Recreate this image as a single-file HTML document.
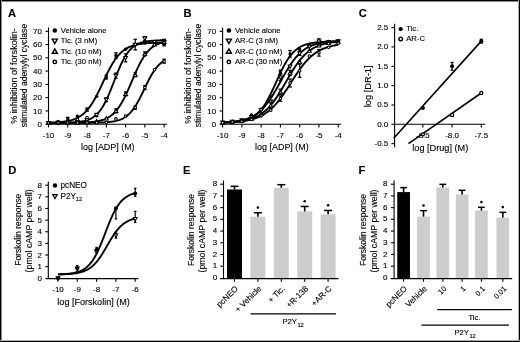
<!DOCTYPE html>
<html><head><meta charset="utf-8"><title>Figure</title>
<style>
html,body{margin:0;padding:0;background:#fff;}
body{width:520px;height:342px;overflow:hidden;font-family:"Liberation Sans",sans-serif;}
svg{display:block;will-change:transform;}
svg text{stroke:#000;stroke-width:0.12px;}
</style></head><body>
<svg width="520" height="342" viewBox="0 0 520 342" font-family="'Liberation Sans', sans-serif" fill="#000"><rect width="520" height="342" fill="#fff"/><text x="8.00" y="16.80" font-size="11.2" text-anchor="start" font-weight="bold">A</text>
<line x1="48.50" y1="27.50" x2="48.50" y2="124.70" stroke="#000" stroke-width="1.1"/>
<line x1="45.50" y1="124.20" x2="48.50" y2="124.20" stroke="#000" stroke-width="1.1"/>
<text x="42.00" y="126.80" font-size="8" text-anchor="end">0</text>
<line x1="45.50" y1="110.93" x2="48.50" y2="110.93" stroke="#000" stroke-width="1.1"/>
<text x="42.00" y="113.53" font-size="8" text-anchor="end">10</text>
<line x1="45.50" y1="97.66" x2="48.50" y2="97.66" stroke="#000" stroke-width="1.1"/>
<text x="42.00" y="100.26" font-size="8" text-anchor="end">20</text>
<line x1="45.50" y1="84.39" x2="48.50" y2="84.39" stroke="#000" stroke-width="1.1"/>
<text x="42.00" y="86.99" font-size="8" text-anchor="end">30</text>
<line x1="45.50" y1="71.12" x2="48.50" y2="71.12" stroke="#000" stroke-width="1.1"/>
<text x="42.00" y="73.72" font-size="8" text-anchor="end">40</text>
<line x1="45.50" y1="57.85" x2="48.50" y2="57.85" stroke="#000" stroke-width="1.1"/>
<text x="42.00" y="60.45" font-size="8" text-anchor="end">50</text>
<line x1="45.50" y1="44.58" x2="48.50" y2="44.58" stroke="#000" stroke-width="1.1"/>
<text x="42.00" y="47.18" font-size="8" text-anchor="end">60</text>
<line x1="45.50" y1="31.31" x2="48.50" y2="31.31" stroke="#000" stroke-width="1.1"/>
<text x="42.00" y="33.91" font-size="8" text-anchor="end">70</text>
<line x1="48.50" y1="124.20" x2="167.00" y2="124.20" stroke="#000" stroke-width="1.1"/>
<line x1="48.50" y1="124.20" x2="48.50" y2="127.40" stroke="#000" stroke-width="1.1"/>
<text x="48.50" y="137.60" font-size="8" text-anchor="middle">-10</text>
<line x1="67.77" y1="124.20" x2="67.77" y2="127.40" stroke="#000" stroke-width="1.1"/>
<text x="67.77" y="137.60" font-size="8" text-anchor="middle">-9</text>
<line x1="87.04" y1="124.20" x2="87.04" y2="127.40" stroke="#000" stroke-width="1.1"/>
<text x="87.04" y="137.60" font-size="8" text-anchor="middle">-8</text>
<line x1="106.31" y1="124.20" x2="106.31" y2="127.40" stroke="#000" stroke-width="1.1"/>
<text x="106.31" y="137.60" font-size="8" text-anchor="middle">-7</text>
<line x1="125.58" y1="124.20" x2="125.58" y2="127.40" stroke="#000" stroke-width="1.1"/>
<text x="125.58" y="137.60" font-size="8" text-anchor="middle">-6</text>
<line x1="144.85" y1="124.20" x2="144.85" y2="127.40" stroke="#000" stroke-width="1.1"/>
<text x="144.85" y="137.60" font-size="8" text-anchor="middle">-5</text>
<line x1="164.12" y1="124.20" x2="164.12" y2="127.40" stroke="#000" stroke-width="1.1"/>
<text x="164.12" y="137.60" font-size="8" text-anchor="middle">-4</text>
<text x="107.80" y="150.40" font-size="9" text-anchor="middle" textLength="53.6" lengthAdjust="spacingAndGlyphs">log [ADP] (M)</text>
<text x="0" y="0" transform="translate(16.90,76.00) rotate(-90)" font-size="9" text-anchor="middle" textLength="95.5" lengthAdjust="spacingAndGlyphs">% inhibition of forskolin-</text>
<text x="0" y="0" transform="translate(26.90,75.60) rotate(-90)" font-size="9" text-anchor="middle" textLength="103.5" lengthAdjust="spacingAndGlyphs">stimulated adenylyl cyclase</text>
<circle cx="54.80" cy="30.50" r="2.25" fill="#000"/>
<text x="60.80" y="32.60" font-size="7.7" text-anchor="start">Vehicle alone</text>
<path d="M52.27,39.10 L57.33,39.10 L54.80,43.53 Z" fill="#fff" stroke="#000" stroke-width="1.43" stroke-linejoin="miter"/>
<text x="60.80" y="43.10" font-size="7.7" text-anchor="start">Tic. (3 nM)</text>
<path d="M52.27,53.30 L57.33,53.30 L54.80,48.87 Z" fill="#fff" stroke="#000" stroke-width="1.43" stroke-linejoin="miter"/>
<text x="60.80" y="53.50" font-size="7.7" text-anchor="start">Tic. (10 nM)</text>
<circle cx="54.80" cy="61.90" r="1.71" fill="#fff" stroke="#000" stroke-width="1.43"/>
<text x="60.80" y="64.00" font-size="7.7" text-anchor="start">Tic. (30 nM)</text>
<polyline points="48.50,122.63 49.46,122.60 50.43,122.57 51.39,122.54 52.35,122.50 53.32,122.46 54.28,122.42 55.24,122.37 56.21,122.31 57.17,122.25 58.13,122.19 59.10,122.11 60.06,122.03 61.03,121.94 61.99,121.84 62.95,121.73 63.92,121.61 64.88,121.48 65.84,121.33 66.81,121.17 67.77,120.99 68.73,120.79 69.70,120.57 70.66,120.33 71.62,120.07 72.59,119.78 73.55,119.46 74.51,119.10 75.48,118.72 76.44,118.30 77.41,117.83 78.37,117.33 79.33,116.77 80.30,116.17 81.26,115.51 82.22,114.80 83.19,114.02 84.15,113.18 85.11,112.28 86.08,111.30 87.04,110.24 88.00,109.12 88.97,107.91 89.93,106.62 90.89,105.25 91.86,103.80 92.82,102.27 93.78,100.66 94.75,98.97 95.71,97.22 96.67,95.40 97.64,93.51 98.60,91.58 99.57,89.60 100.53,87.58 101.49,85.54 102.46,83.49 103.42,81.43 104.38,79.38 105.35,77.34 106.31,75.33 107.27,73.36 108.24,71.44 109.20,69.56 110.16,67.76 111.13,66.01 112.09,64.34 113.05,62.75 114.02,61.23 114.98,59.80 115.94,58.45 116.91,57.17 117.87,55.98 118.84,54.87 119.80,53.83 120.76,52.87 121.73,51.97 122.69,51.15 123.65,50.38 124.62,49.68 125.58,49.03 126.54,48.44 127.51,47.90 128.47,47.40 129.43,46.95 130.40,46.53 131.36,46.15 132.32,45.81 133.29,45.49 134.25,45.21 135.22,44.95 136.18,44.71 137.14,44.50 138.11,44.30 139.07,44.13 140.03,43.97 141.00,43.82 141.96,43.69 142.92,43.57 143.89,43.47 144.85,43.37 145.81,43.28 146.78,43.20 147.74,43.13 148.70,43.06 149.67,43.01 150.63,42.95 151.59,42.90 152.56,42.86 153.52,42.82 154.49,42.79 155.45,42.75 156.41,42.73 157.38,42.70 158.34,42.68 159.30,42.65 160.27,42.64 161.23,42.62 162.19,42.60 163.16,42.59 164.12,42.58" fill="none" stroke="#000" stroke-width="1.9" stroke-linejoin="round"/>
<polyline points="48.50,122.85 49.46,122.85 50.43,122.84 51.39,122.84 52.35,122.84 53.32,122.83 54.28,122.83 55.24,122.82 56.21,122.81 57.17,122.81 58.13,122.80 59.10,122.79 60.06,122.78 61.03,122.77 61.99,122.75 62.95,122.74 63.92,122.72 64.88,122.70 65.84,122.68 66.81,122.65 67.77,122.62 68.73,122.59 69.70,122.56 70.66,122.52 71.62,122.47 72.59,122.42 73.55,122.36 74.51,122.29 75.48,122.22 76.44,122.14 77.41,122.04 78.37,121.94 79.33,121.82 80.30,121.69 81.26,121.54 82.22,121.37 83.19,121.18 84.15,120.97 85.11,120.73 86.08,120.46 87.04,120.16 88.00,119.82 88.97,119.45 89.93,119.03 90.89,118.56 91.86,118.04 92.82,117.46 93.78,116.81 94.75,116.10 95.71,115.31 96.67,114.43 97.64,113.47 98.60,112.42 99.57,111.26 100.53,110.00 101.49,108.63 102.46,107.15 103.42,105.55 104.38,103.84 105.35,102.01 106.31,100.06 107.27,98.01 108.24,95.86 109.20,93.62 110.16,91.29 111.13,88.90 112.09,86.45 113.05,83.97 114.02,81.47 114.98,78.97 115.94,76.49 116.91,74.04 117.87,71.65 118.84,69.33 119.80,67.08 120.76,64.93 121.73,62.88 122.69,60.94 123.65,59.11 124.62,57.39 125.58,55.79 126.54,54.31 127.51,52.94 128.47,51.68 129.43,50.53 130.40,49.47 131.36,48.51 132.32,47.64 133.29,46.84 134.25,46.13 135.22,45.48 136.18,44.90 137.14,44.38 138.11,43.91 139.07,43.49 140.03,43.12 141.00,42.78 141.96,42.48 142.92,42.21 143.89,41.98 144.85,41.76 145.81,41.57 146.78,41.40 147.74,41.25 148.70,41.12 149.67,41.00 150.63,40.90 151.59,40.80 152.56,40.72 153.52,40.65 154.49,40.58 155.45,40.52 156.41,40.47 157.38,40.43 158.34,40.39 159.30,40.35 160.27,40.32 161.23,40.29 162.19,40.26 163.16,40.24 164.12,40.22" fill="none" stroke="#000" stroke-width="1.9" stroke-linejoin="round"/>
<polyline points="48.50,122.87 49.46,122.87 50.43,122.86 51.39,122.86 52.35,122.86 53.32,122.86 54.28,122.86 55.24,122.86 56.21,122.86 57.17,122.86 58.13,122.85 59.10,122.85 60.06,122.85 61.03,122.85 61.99,122.84 62.95,122.84 63.92,122.84 64.88,122.83 65.84,122.83 66.81,122.82 67.77,122.81 68.73,122.81 69.70,122.80 70.66,122.79 71.62,122.78 72.59,122.77 73.55,122.76 74.51,122.75 75.48,122.73 76.44,122.72 77.41,122.70 78.37,122.68 79.33,122.66 80.30,122.63 81.26,122.60 82.22,122.57 83.19,122.54 84.15,122.50 85.11,122.46 86.08,122.41 87.04,122.36 88.00,122.30 88.97,122.23 89.93,122.16 90.89,122.08 91.86,121.99 92.82,121.89 93.78,121.77 94.75,121.65 95.71,121.51 96.67,121.35 97.64,121.18 98.60,120.99 99.57,120.78 100.53,120.54 101.49,120.28 102.46,119.99 103.42,119.67 104.38,119.32 105.35,118.93 106.31,118.50 107.27,118.02 108.24,117.49 109.20,116.92 110.16,116.28 111.13,115.59 112.09,114.83 113.05,114.00 114.02,113.09 114.98,112.11 115.94,111.04 116.91,109.89 117.87,108.65 118.84,107.31 119.80,105.88 120.76,104.36 121.73,102.74 122.69,101.02 123.65,99.22 124.62,97.33 125.58,95.35 126.54,93.31 127.51,91.19 128.47,89.03 129.43,86.82 130.40,84.57 131.36,82.31 132.32,80.04 133.29,77.79 134.25,75.55 135.22,73.34 136.18,71.19 137.14,69.09 138.11,67.05 139.07,65.10 140.03,63.22 141.00,61.44 141.96,59.74 142.92,58.14 143.89,56.63 144.85,55.22 145.81,53.90 146.78,52.68 147.74,51.54 148.70,50.49 149.67,49.53 150.63,48.64 151.59,47.82 152.56,47.07 153.52,46.39 154.49,45.77 155.45,45.20 156.41,44.69 157.38,44.22 158.34,43.80 159.30,43.42 160.27,43.07 161.23,42.76 162.19,42.47 163.16,42.22 164.12,41.99" fill="none" stroke="#000" stroke-width="1.9" stroke-linejoin="round"/>
<polyline points="48.50,122.87 49.46,122.87 50.43,122.87 51.39,122.87 52.35,122.87 53.32,122.87 54.28,122.87 55.24,122.87 56.21,122.87 57.17,122.87 58.13,122.87 59.10,122.87 60.06,122.87 61.03,122.87 61.99,122.87 62.95,122.87 63.92,122.87 64.88,122.87 65.84,122.87 66.81,122.87 67.77,122.87 68.73,122.87 69.70,122.87 70.66,122.87 71.62,122.86 72.59,122.86 73.55,122.86 74.51,122.86 75.48,122.86 76.44,122.86 77.41,122.86 78.37,122.85 79.33,122.85 80.30,122.85 81.26,122.85 82.22,122.84 83.19,122.84 84.15,122.83 85.11,122.83 86.08,122.82 87.04,122.82 88.00,122.81 88.97,122.80 89.93,122.79 90.89,122.78 91.86,122.77 92.82,122.76 93.78,122.75 94.75,122.73 95.71,122.71 96.67,122.69 97.64,122.67 98.60,122.64 99.57,122.61 100.53,122.58 101.49,122.54 102.46,122.50 103.42,122.45 104.38,122.40 105.35,122.34 106.31,122.28 107.27,122.20 108.24,122.12 109.20,122.02 110.16,121.91 111.13,121.79 112.09,121.66 113.05,121.51 114.02,121.34 114.98,121.15 115.94,120.94 116.91,120.70 117.87,120.43 118.84,120.13 119.80,119.80 120.76,119.43 121.73,119.02 122.69,118.56 123.65,118.05 124.62,117.48 125.58,116.86 126.54,116.17 127.51,115.41 128.47,114.58 129.43,113.67 130.40,112.67 131.36,111.59 132.32,110.42 133.29,109.16 134.25,107.80 135.22,106.36 136.18,104.82 137.14,103.19 138.11,101.48 139.07,99.70 140.03,97.85 141.00,95.93 141.96,93.98 142.92,91.99 143.89,89.97 144.85,87.96 145.81,85.95 146.78,83.96 147.74,82.01 148.70,80.11 149.67,78.27 150.63,76.50 151.59,74.81 152.56,73.20 153.52,71.68 154.49,70.25 155.45,68.92 156.41,67.67 157.38,66.52 158.34,65.46 159.30,64.48 160.27,63.59 161.23,62.77 162.19,62.02 163.16,61.35 164.12,60.74" fill="none" stroke="#000" stroke-width="1.9" stroke-linejoin="round"/>
<circle cx="48.50" cy="122.63" r="1.68" fill="#000"/>
<circle cx="58.13" cy="121.55" r="1.68" fill="#000"/>
<line x1="67.77" y1="117.30" x2="67.77" y2="120.48" stroke="#000" stroke-width="1.2"/>
<line x1="65.97" y1="117.30" x2="69.57" y2="117.30" stroke="#000" stroke-width="1.2"/>
<line x1="65.97" y1="120.48" x2="69.57" y2="120.48" stroke="#000" stroke-width="1.2"/>
<circle cx="67.77" cy="118.89" r="1.68" fill="#000"/>
<circle cx="77.41" cy="116.24" r="1.68" fill="#000"/>
<line x1="87.04" y1="108.01" x2="87.04" y2="111.20" stroke="#000" stroke-width="1.2"/>
<line x1="85.24" y1="108.01" x2="88.84" y2="108.01" stroke="#000" stroke-width="1.2"/>
<line x1="85.24" y1="111.20" x2="88.84" y2="111.20" stroke="#000" stroke-width="1.2"/>
<circle cx="87.04" cy="109.60" r="1.68" fill="#000"/>
<circle cx="96.67" cy="96.33" r="1.68" fill="#000"/>
<line x1="106.31" y1="75.10" x2="106.31" y2="79.08" stroke="#000" stroke-width="1.2"/>
<line x1="104.51" y1="75.10" x2="108.11" y2="75.10" stroke="#000" stroke-width="1.2"/>
<line x1="104.51" y1="79.08" x2="108.11" y2="79.08" stroke="#000" stroke-width="1.2"/>
<circle cx="106.31" cy="77.09" r="1.68" fill="#000"/>
<line x1="115.94" y1="52.81" x2="115.94" y2="58.12" stroke="#000" stroke-width="1.2"/>
<line x1="114.14" y1="52.81" x2="117.74" y2="52.81" stroke="#000" stroke-width="1.2"/>
<line x1="114.14" y1="58.12" x2="117.74" y2="58.12" stroke="#000" stroke-width="1.2"/>
<circle cx="115.94" cy="55.46" r="1.68" fill="#000"/>
<circle cx="125.58" cy="49.22" r="1.68" fill="#000"/>
<circle cx="135.22" cy="44.85" r="1.68" fill="#000"/>
<circle cx="144.85" cy="42.99" r="1.68" fill="#000"/>
<circle cx="154.49" cy="43.25" r="1.68" fill="#000"/>
<line x1="164.12" y1="40.60" x2="164.12" y2="45.91" stroke="#000" stroke-width="1.2"/>
<line x1="162.32" y1="40.60" x2="165.92" y2="40.60" stroke="#000" stroke-width="1.2"/>
<line x1="162.32" y1="45.91" x2="165.92" y2="45.91" stroke="#000" stroke-width="1.2"/>
<circle cx="164.12" cy="43.25" r="1.68" fill="#000"/>
<path d="M46.61,121.44 L50.39,121.44 L48.50,124.74 Z" fill="#fff" stroke="#000" stroke-width="1.07" stroke-linejoin="miter"/>
<path d="M56.25,121.38 L60.02,121.38 L58.13,124.68 Z" fill="#fff" stroke="#000" stroke-width="1.07" stroke-linejoin="miter"/>
<path d="M65.88,121.21 L69.66,121.21 L67.77,124.51 Z" fill="#fff" stroke="#000" stroke-width="1.07" stroke-linejoin="miter"/>
<path d="M75.52,120.63 L79.29,120.63 L77.41,123.93 Z" fill="#fff" stroke="#000" stroke-width="1.07" stroke-linejoin="miter"/>
<path d="M85.15,118.74 L88.93,118.74 L87.04,122.05 Z" fill="#fff" stroke="#000" stroke-width="1.07" stroke-linejoin="miter"/>
<line x1="96.67" y1="113.32" x2="96.67" y2="116.50" stroke="#000" stroke-width="1.2"/>
<line x1="94.88" y1="113.32" x2="98.47" y2="113.32" stroke="#000" stroke-width="1.2"/>
<line x1="94.88" y1="116.50" x2="98.47" y2="116.50" stroke="#000" stroke-width="1.2"/>
<path d="M94.79,113.50 L98.56,113.50 L96.67,116.80 Z" fill="#fff" stroke="#000" stroke-width="1.07" stroke-linejoin="miter"/>
<line x1="106.31" y1="97.66" x2="106.31" y2="101.64" stroke="#000" stroke-width="1.2"/>
<line x1="104.51" y1="97.66" x2="108.11" y2="97.66" stroke="#000" stroke-width="1.2"/>
<line x1="104.51" y1="101.64" x2="108.11" y2="101.64" stroke="#000" stroke-width="1.2"/>
<path d="M104.42,98.24 L108.20,98.24 L106.31,101.54 Z" fill="#fff" stroke="#000" stroke-width="1.07" stroke-linejoin="miter"/>
<line x1="115.94" y1="72.98" x2="115.94" y2="78.29" stroke="#000" stroke-width="1.2"/>
<line x1="114.14" y1="72.98" x2="117.74" y2="72.98" stroke="#000" stroke-width="1.2"/>
<line x1="114.14" y1="78.29" x2="117.74" y2="78.29" stroke="#000" stroke-width="1.2"/>
<path d="M114.06,74.22 L117.83,74.22 L115.94,77.52 Z" fill="#fff" stroke="#000" stroke-width="1.07" stroke-linejoin="miter"/>
<line x1="125.58" y1="53.87" x2="125.58" y2="61.83" stroke="#000" stroke-width="1.2"/>
<line x1="123.78" y1="53.87" x2="127.38" y2="53.87" stroke="#000" stroke-width="1.2"/>
<line x1="123.78" y1="61.83" x2="127.38" y2="61.83" stroke="#000" stroke-width="1.2"/>
<path d="M123.69,56.44 L127.47,56.44 L125.58,59.74 Z" fill="#fff" stroke="#000" stroke-width="1.07" stroke-linejoin="miter"/>
<line x1="135.22" y1="39.27" x2="135.22" y2="49.89" stroke="#000" stroke-width="1.2"/>
<line x1="133.41" y1="39.27" x2="137.02" y2="39.27" stroke="#000" stroke-width="1.2"/>
<line x1="133.41" y1="49.89" x2="137.02" y2="49.89" stroke="#000" stroke-width="1.2"/>
<path d="M133.33,43.17 L137.10,43.17 L135.22,46.47 Z" fill="#fff" stroke="#000" stroke-width="1.07" stroke-linejoin="miter"/>
<line x1="144.85" y1="36.49" x2="144.85" y2="40.47" stroke="#000" stroke-width="1.2"/>
<line x1="143.05" y1="36.49" x2="146.65" y2="36.49" stroke="#000" stroke-width="1.2"/>
<line x1="143.05" y1="40.47" x2="146.65" y2="40.47" stroke="#000" stroke-width="1.2"/>
<path d="M142.96,37.06 L146.74,37.06 L144.85,40.36 Z" fill="#fff" stroke="#000" stroke-width="1.07" stroke-linejoin="miter"/>
<path d="M152.60,40.51 L156.37,40.51 L154.49,43.81 Z" fill="#fff" stroke="#000" stroke-width="1.07" stroke-linejoin="miter"/>
<line x1="164.12" y1="39.94" x2="164.12" y2="43.92" stroke="#000" stroke-width="1.2"/>
<line x1="162.32" y1="39.94" x2="165.92" y2="39.94" stroke="#000" stroke-width="1.2"/>
<line x1="162.32" y1="43.92" x2="165.92" y2="43.92" stroke="#000" stroke-width="1.2"/>
<path d="M162.23,40.51 L166.01,40.51 L164.12,43.81 Z" fill="#fff" stroke="#000" stroke-width="1.07" stroke-linejoin="miter"/>
<path d="M46.61,124.28 L50.39,124.28 L48.50,120.98 Z" fill="#fff" stroke="#000" stroke-width="1.07" stroke-linejoin="miter"/>
<path d="M56.25,124.27 L60.02,124.27 L58.13,120.97 Z" fill="#fff" stroke="#000" stroke-width="1.07" stroke-linejoin="miter"/>
<path d="M65.88,124.23 L69.66,124.23 L67.77,120.93 Z" fill="#fff" stroke="#000" stroke-width="1.07" stroke-linejoin="miter"/>
<path d="M75.52,124.11 L79.29,124.11 L77.41,120.81 Z" fill="#fff" stroke="#000" stroke-width="1.07" stroke-linejoin="miter"/>
<path d="M85.15,123.77 L88.93,123.77 L87.04,120.47 Z" fill="#fff" stroke="#000" stroke-width="1.07" stroke-linejoin="miter"/>
<path d="M94.79,122.77 L98.56,122.77 L96.67,119.47 Z" fill="#fff" stroke="#000" stroke-width="1.07" stroke-linejoin="miter"/>
<path d="M104.42,119.91 L108.20,119.91 L106.31,116.61 Z" fill="#fff" stroke="#000" stroke-width="1.07" stroke-linejoin="miter"/>
<line x1="115.94" y1="108.94" x2="115.94" y2="112.92" stroke="#000" stroke-width="1.2"/>
<line x1="114.14" y1="108.94" x2="117.74" y2="108.94" stroke="#000" stroke-width="1.2"/>
<line x1="114.14" y1="112.92" x2="117.74" y2="112.92" stroke="#000" stroke-width="1.2"/>
<path d="M114.06,112.34 L117.83,112.34 L115.94,109.04 Z" fill="#fff" stroke="#000" stroke-width="1.07" stroke-linejoin="miter"/>
<line x1="125.58" y1="91.95" x2="125.58" y2="95.93" stroke="#000" stroke-width="1.2"/>
<line x1="123.78" y1="91.95" x2="127.38" y2="91.95" stroke="#000" stroke-width="1.2"/>
<line x1="123.78" y1="95.93" x2="127.38" y2="95.93" stroke="#000" stroke-width="1.2"/>
<path d="M123.69,95.36 L127.47,95.36 L125.58,92.06 Z" fill="#fff" stroke="#000" stroke-width="1.07" stroke-linejoin="miter"/>
<line x1="135.22" y1="72.85" x2="135.22" y2="76.83" stroke="#000" stroke-width="1.2"/>
<line x1="133.41" y1="72.85" x2="137.02" y2="72.85" stroke="#000" stroke-width="1.2"/>
<line x1="133.41" y1="76.83" x2="137.02" y2="76.83" stroke="#000" stroke-width="1.2"/>
<path d="M133.33,76.25 L137.10,76.25 L135.22,72.95 Z" fill="#fff" stroke="#000" stroke-width="1.07" stroke-linejoin="miter"/>
<line x1="144.85" y1="51.88" x2="144.85" y2="55.86" stroke="#000" stroke-width="1.2"/>
<line x1="143.05" y1="51.88" x2="146.65" y2="51.88" stroke="#000" stroke-width="1.2"/>
<line x1="143.05" y1="55.86" x2="146.65" y2="55.86" stroke="#000" stroke-width="1.2"/>
<path d="M142.96,55.28 L146.74,55.28 L144.85,51.98 Z" fill="#fff" stroke="#000" stroke-width="1.07" stroke-linejoin="miter"/>
<path d="M152.60,45.99 L156.37,45.99 L154.49,42.69 Z" fill="#fff" stroke="#000" stroke-width="1.07" stroke-linejoin="miter"/>
<line x1="164.12" y1="39.27" x2="164.12" y2="44.58" stroke="#000" stroke-width="1.2"/>
<line x1="162.32" y1="39.27" x2="165.92" y2="39.27" stroke="#000" stroke-width="1.2"/>
<line x1="162.32" y1="44.58" x2="165.92" y2="44.58" stroke="#000" stroke-width="1.2"/>
<path d="M162.23,43.34 L166.01,43.34 L164.12,40.04 Z" fill="#fff" stroke="#000" stroke-width="1.07" stroke-linejoin="miter"/>
<circle cx="48.50" cy="122.87" r="1.27" fill="#fff" stroke="#000" stroke-width="1.07"/>
<circle cx="58.13" cy="122.87" r="1.27" fill="#fff" stroke="#000" stroke-width="1.07"/>
<circle cx="67.77" cy="122.87" r="1.27" fill="#fff" stroke="#000" stroke-width="1.07"/>
<circle cx="77.41" cy="119.56" r="1.27" fill="#fff" stroke="#000" stroke-width="1.07"/>
<circle cx="87.04" cy="117.56" r="1.27" fill="#fff" stroke="#000" stroke-width="1.07"/>
<circle cx="96.67" cy="122.69" r="1.27" fill="#fff" stroke="#000" stroke-width="1.07"/>
<circle cx="106.31" cy="122.28" r="1.27" fill="#fff" stroke="#000" stroke-width="1.07"/>
<circle cx="115.94" cy="118.89" r="1.27" fill="#fff" stroke="#000" stroke-width="1.07"/>
<circle cx="125.58" cy="116.11" r="1.27" fill="#fff" stroke="#000" stroke-width="1.07"/>
<line x1="135.22" y1="106.02" x2="135.22" y2="109.20" stroke="#000" stroke-width="1.2"/>
<line x1="133.41" y1="106.02" x2="137.02" y2="106.02" stroke="#000" stroke-width="1.2"/>
<line x1="133.41" y1="109.20" x2="137.02" y2="109.20" stroke="#000" stroke-width="1.2"/>
<circle cx="135.22" cy="107.61" r="1.27" fill="#fff" stroke="#000" stroke-width="1.07"/>
<line x1="144.85" y1="85.58" x2="144.85" y2="89.57" stroke="#000" stroke-width="1.2"/>
<line x1="143.05" y1="85.58" x2="146.65" y2="85.58" stroke="#000" stroke-width="1.2"/>
<line x1="143.05" y1="89.57" x2="146.65" y2="89.57" stroke="#000" stroke-width="1.2"/>
<circle cx="144.85" cy="87.57" r="1.27" fill="#fff" stroke="#000" stroke-width="1.07"/>
<circle cx="154.49" cy="69.79" r="1.27" fill="#fff" stroke="#000" stroke-width="1.07"/>
<line x1="164.12" y1="59.18" x2="164.12" y2="63.16" stroke="#000" stroke-width="1.2"/>
<line x1="162.32" y1="59.18" x2="165.92" y2="59.18" stroke="#000" stroke-width="1.2"/>
<line x1="162.32" y1="63.16" x2="165.92" y2="63.16" stroke="#000" stroke-width="1.2"/>
<circle cx="164.12" cy="61.17" r="1.27" fill="#fff" stroke="#000" stroke-width="1.07"/>
<text x="183.50" y="16.80" font-size="11.2" text-anchor="start" font-weight="bold">B</text>
<line x1="222.60" y1="27.50" x2="222.60" y2="124.70" stroke="#000" stroke-width="1.1"/>
<line x1="219.60" y1="124.20" x2="222.60" y2="124.20" stroke="#000" stroke-width="1.1"/>
<text x="216.10" y="126.80" font-size="8" text-anchor="end">0</text>
<line x1="219.60" y1="110.93" x2="222.60" y2="110.93" stroke="#000" stroke-width="1.1"/>
<text x="216.10" y="113.53" font-size="8" text-anchor="end">10</text>
<line x1="219.60" y1="97.66" x2="222.60" y2="97.66" stroke="#000" stroke-width="1.1"/>
<text x="216.10" y="100.26" font-size="8" text-anchor="end">20</text>
<line x1="219.60" y1="84.39" x2="222.60" y2="84.39" stroke="#000" stroke-width="1.1"/>
<text x="216.10" y="86.99" font-size="8" text-anchor="end">30</text>
<line x1="219.60" y1="71.12" x2="222.60" y2="71.12" stroke="#000" stroke-width="1.1"/>
<text x="216.10" y="73.72" font-size="8" text-anchor="end">40</text>
<line x1="219.60" y1="57.85" x2="222.60" y2="57.85" stroke="#000" stroke-width="1.1"/>
<text x="216.10" y="60.45" font-size="8" text-anchor="end">50</text>
<line x1="219.60" y1="44.58" x2="222.60" y2="44.58" stroke="#000" stroke-width="1.1"/>
<text x="216.10" y="47.18" font-size="8" text-anchor="end">60</text>
<line x1="219.60" y1="31.31" x2="222.60" y2="31.31" stroke="#000" stroke-width="1.1"/>
<text x="216.10" y="33.91" font-size="8" text-anchor="end">70</text>
<line x1="222.60" y1="124.20" x2="341.10" y2="124.20" stroke="#000" stroke-width="1.1"/>
<line x1="222.60" y1="124.20" x2="222.60" y2="127.40" stroke="#000" stroke-width="1.1"/>
<text x="222.60" y="137.60" font-size="8" text-anchor="middle">-10</text>
<line x1="241.87" y1="124.20" x2="241.87" y2="127.40" stroke="#000" stroke-width="1.1"/>
<text x="241.87" y="137.60" font-size="8" text-anchor="middle">-9</text>
<line x1="261.14" y1="124.20" x2="261.14" y2="127.40" stroke="#000" stroke-width="1.1"/>
<text x="261.14" y="137.60" font-size="8" text-anchor="middle">-8</text>
<line x1="280.41" y1="124.20" x2="280.41" y2="127.40" stroke="#000" stroke-width="1.1"/>
<text x="280.41" y="137.60" font-size="8" text-anchor="middle">-7</text>
<line x1="299.68" y1="124.20" x2="299.68" y2="127.40" stroke="#000" stroke-width="1.1"/>
<text x="299.68" y="137.60" font-size="8" text-anchor="middle">-6</text>
<line x1="318.95" y1="124.20" x2="318.95" y2="127.40" stroke="#000" stroke-width="1.1"/>
<text x="318.95" y="137.60" font-size="8" text-anchor="middle">-5</text>
<line x1="338.22" y1="124.20" x2="338.22" y2="127.40" stroke="#000" stroke-width="1.1"/>
<text x="338.22" y="137.60" font-size="8" text-anchor="middle">-4</text>
<text x="281.90" y="150.40" font-size="9" text-anchor="middle" textLength="53.6" lengthAdjust="spacingAndGlyphs">log [ADP] (M)</text>
<text x="0" y="0" transform="translate(191.00,76.00) rotate(-90)" font-size="9" text-anchor="middle" textLength="95.5" lengthAdjust="spacingAndGlyphs">% inhibition of forskolin-</text>
<text x="0" y="0" transform="translate(201.00,75.60) rotate(-90)" font-size="9" text-anchor="middle" textLength="103.5" lengthAdjust="spacingAndGlyphs">stimulated adenylyl cyclase</text>
<circle cx="228.90" cy="30.50" r="2.25" fill="#000"/>
<text x="234.90" y="32.60" font-size="7.7" text-anchor="start">Vehicle alone</text>
<path d="M226.37,39.10 L231.43,39.10 L228.90,43.53 Z" fill="#fff" stroke="#000" stroke-width="1.43" stroke-linejoin="miter"/>
<text x="234.90" y="43.10" font-size="7.7" text-anchor="start">AR-C (3 nM)</text>
<path d="M226.37,53.30 L231.43,53.30 L228.90,48.87 Z" fill="#fff" stroke="#000" stroke-width="1.43" stroke-linejoin="miter"/>
<text x="234.90" y="53.50" font-size="7.7" text-anchor="start">AR-C (10 nM)</text>
<circle cx="228.90" cy="61.90" r="1.71" fill="#fff" stroke="#000" stroke-width="1.43"/>
<text x="234.90" y="64.00" font-size="7.7" text-anchor="start">AR-C (30 nM)</text>
<polyline points="222.60,122.63 223.56,122.61 224.53,122.58 225.49,122.54 226.45,122.51 227.42,122.47 228.38,122.42 229.34,122.38 230.31,122.32 231.27,122.26 232.23,122.19 233.20,122.12 234.16,122.04 235.13,121.94 236.09,121.84 237.05,121.73 238.02,121.61 238.98,121.47 239.94,121.32 240.91,121.15 241.87,120.96 242.83,120.76 243.80,120.53 244.76,120.28 245.72,120.00 246.69,119.70 247.65,119.36 248.61,119.00 249.58,118.59 250.54,118.14 251.50,117.66 252.47,117.12 253.43,116.53 254.40,115.89 255.36,115.19 256.32,114.43 257.29,113.61 258.25,112.71 259.21,111.74 260.18,110.70 261.14,109.57 262.10,108.37 263.07,107.07 264.03,105.70 264.99,104.23 265.96,102.69 266.92,101.05 267.88,99.34 268.85,97.55 269.81,95.68 270.77,93.75 271.74,91.77 272.70,89.73 273.67,87.65 274.63,85.54 275.59,83.41 276.56,81.28 277.52,79.15 278.48,77.04 279.45,74.95 280.41,72.91 281.37,70.91 282.34,68.97 283.30,67.09 284.26,65.28 285.23,63.55 286.19,61.90 287.15,60.34 288.12,58.86 289.08,57.46 290.04,56.15 291.01,54.93 291.97,53.79 292.94,52.73 293.90,51.74 294.86,50.83 295.83,49.99 296.79,49.22 297.75,48.51 298.72,47.86 299.68,47.26 300.64,46.72 301.61,46.22 302.57,45.76 303.53,45.35 304.50,44.97 305.46,44.63 306.42,44.32 307.39,44.04 308.35,43.79 309.31,43.55 310.28,43.34 311.24,43.15 312.21,42.98 313.17,42.83 314.13,42.69 315.10,42.56 316.06,42.45 317.02,42.34 317.99,42.25 318.95,42.17 319.91,42.09 320.88,42.02 321.84,41.96 322.80,41.90 323.77,41.85 324.73,41.81 325.69,41.77 326.66,41.73 327.62,41.70 328.58,41.67 329.55,41.64 330.51,41.62 331.48,41.59 332.44,41.57 333.40,41.56 334.37,41.54 335.33,41.53 336.29,41.51 337.26,41.50 338.22,41.49" fill="none" stroke="#000" stroke-width="1.9" stroke-linejoin="round"/>
<polyline points="222.60,122.38 223.56,122.34 224.53,122.29 225.49,122.24 226.45,122.18 227.42,122.12 228.38,122.06 229.34,121.98 230.31,121.91 231.27,121.82 232.23,121.73 233.20,121.63 234.16,121.52 235.13,121.40 236.09,121.27 237.05,121.13 238.02,120.98 238.98,120.82 239.94,120.64 240.91,120.45 241.87,120.24 242.83,120.01 243.80,119.77 244.76,119.50 245.72,119.22 246.69,118.91 247.65,118.58 248.61,118.21 249.58,117.83 250.54,117.41 251.50,116.96 252.47,116.47 253.43,115.95 254.40,115.39 255.36,114.79 256.32,114.15 257.29,113.46 258.25,112.73 259.21,111.94 260.18,111.11 261.14,110.23 262.10,109.29 263.07,108.29 264.03,107.24 264.99,106.14 265.96,104.97 266.92,103.75 267.88,102.47 268.85,101.14 269.81,99.75 270.77,98.31 271.74,96.82 272.70,95.28 273.67,93.70 274.63,92.08 275.59,90.42 276.56,88.73 277.52,87.02 278.48,85.29 279.45,83.55 280.41,81.80 281.37,80.05 282.34,78.31 283.30,76.58 284.26,74.87 285.23,73.18 286.19,71.53 287.15,69.91 288.12,68.32 289.08,66.79 290.04,65.29 291.01,63.85 291.97,62.46 292.94,61.13 293.90,59.85 294.86,58.63 295.83,57.47 296.79,56.36 297.75,55.31 298.72,54.32 299.68,53.38 300.64,52.49 301.61,51.66 302.57,50.88 303.53,50.14 304.50,49.46 305.46,48.81 306.42,48.21 307.39,47.66 308.35,47.13 309.31,46.65 310.28,46.20 311.24,45.78 312.21,45.39 313.17,45.03 314.13,44.70 315.10,44.39 316.06,44.10 317.02,43.84 317.99,43.59 318.95,43.36 319.91,43.16 320.88,42.96 321.84,42.79 322.80,42.62 323.77,42.47 324.73,42.33 325.69,42.20 326.66,42.08 327.62,41.98 328.58,41.88 329.55,41.78 330.51,41.70 331.48,41.62 332.44,41.55 333.40,41.48 334.37,41.42 335.33,41.37 336.29,41.31 337.26,41.27 338.22,41.22" fill="none" stroke="#000" stroke-width="1.9" stroke-linejoin="round"/>
<polyline points="222.60,122.50 223.56,122.46 224.53,122.43 225.49,122.39 226.45,122.35 227.42,122.31 228.38,122.26 229.34,122.21 230.31,122.15 231.27,122.09 232.23,122.02 233.20,121.95 234.16,121.88 235.13,121.79 236.09,121.70 237.05,121.60 238.02,121.50 238.98,121.38 239.94,121.26 240.91,121.12 241.87,120.98 242.83,120.82 243.80,120.65 244.76,120.47 245.72,120.27 246.69,120.05 247.65,119.82 248.61,119.57 249.58,119.30 250.54,119.01 251.50,118.70 252.47,118.37 253.43,118.00 254.40,117.62 255.36,117.20 256.32,116.75 257.29,116.27 258.25,115.76 259.21,115.21 260.18,114.62 261.14,114.00 262.10,113.33 263.07,112.62 264.03,111.86 264.99,111.06 265.96,110.21 266.92,109.31 267.88,108.36 268.85,107.35 269.81,106.30 270.77,105.19 271.74,104.03 272.70,102.82 273.67,101.56 274.63,100.24 275.59,98.88 276.56,97.47 277.52,96.01 278.48,94.52 279.45,92.98 280.41,91.41 281.37,89.81 282.34,88.19 283.30,86.54 284.26,84.88 285.23,83.21 286.19,81.53 287.15,79.86 288.12,78.19 289.08,76.54 290.04,74.90 291.01,73.28 291.97,71.70 292.94,70.14 293.90,68.62 294.86,67.14 295.83,65.70 296.79,64.31 297.75,62.96 298.72,61.67 299.68,60.43 300.64,59.23 301.61,58.10 302.57,57.01 303.53,55.98 304.50,54.99 305.46,54.06 306.42,53.18 307.39,52.35 308.35,51.57 309.31,50.83 310.28,50.14 311.24,49.48 312.21,48.87 313.17,48.30 314.13,47.77 315.10,47.27 316.06,46.80 317.02,46.37 317.99,45.96 318.95,45.59 319.91,45.23 320.88,44.91 321.84,44.61 322.80,44.32 323.77,44.06 324.73,43.82 325.69,43.60 326.66,43.39 327.62,43.20 328.58,43.02 329.55,42.85 330.51,42.70 331.48,42.56 332.44,42.43 333.40,42.31 334.37,42.20 335.33,42.09 336.29,42.00 337.26,41.91 338.22,41.83" fill="none" stroke="#000" stroke-width="1.9" stroke-linejoin="round"/>
<polyline points="222.60,122.51 223.56,122.48 224.53,122.45 225.49,122.41 226.45,122.38 227.42,122.34 228.38,122.30 229.34,122.25 230.31,122.20 231.27,122.15 232.23,122.09 233.20,122.03 234.16,121.97 235.13,121.90 236.09,121.82 237.05,121.74 238.02,121.65 238.98,121.56 239.94,121.45 240.91,121.34 241.87,121.22 242.83,121.10 243.80,120.96 244.76,120.81 245.72,120.66 246.69,120.49 247.65,120.30 248.61,120.11 249.58,119.90 250.54,119.67 251.50,119.43 252.47,119.17 253.43,118.89 254.40,118.60 255.36,118.28 256.32,117.94 257.29,117.57 258.25,117.18 259.21,116.77 260.18,116.33 261.14,115.86 262.10,115.35 263.07,114.82 264.03,114.25 264.99,113.65 265.96,113.01 266.92,112.34 267.88,111.62 268.85,110.87 269.81,110.07 270.77,109.23 271.74,108.35 272.70,107.43 273.67,106.46 274.63,105.45 275.59,104.39 276.56,103.29 277.52,102.14 278.48,100.96 279.45,99.73 280.41,98.46 281.37,97.15 282.34,95.81 283.30,94.43 284.26,93.03 285.23,91.59 286.19,90.13 287.15,88.66 288.12,87.16 289.08,85.66 290.04,84.14 291.01,82.63 291.97,81.11 292.94,79.60 293.90,78.10 294.86,76.61 295.83,75.14 296.79,73.69 297.75,72.27 298.72,70.87 299.68,69.51 300.64,68.18 301.61,66.89 302.57,65.64 303.53,64.42 304.50,63.25 305.46,62.13 306.42,61.04 307.39,60.00 308.35,59.01 309.31,58.06 310.28,57.15 311.24,56.29 312.21,55.46 313.17,54.69 314.13,53.95 315.10,53.25 316.06,52.59 317.02,51.96 317.99,51.38 318.95,50.82 319.91,50.30 320.88,49.81 321.84,49.35 322.80,48.92 323.77,48.52 324.73,48.14 325.69,47.78 326.66,47.45 327.62,47.14 328.58,46.85 329.55,46.58 330.51,46.33 331.48,46.10 332.44,45.88 333.40,45.67 334.37,45.48 335.33,45.31 336.29,45.14 337.26,44.99 338.22,44.84" fill="none" stroke="#000" stroke-width="1.9" stroke-linejoin="round"/>
<circle cx="222.60" cy="122.63" r="1.68" fill="#000"/>
<circle cx="232.23" cy="122.19" r="1.68" fill="#000"/>
<circle cx="241.87" cy="120.96" r="1.68" fill="#000"/>
<circle cx="251.50" cy="114.91" r="1.68" fill="#000"/>
<circle cx="261.14" cy="109.20" r="1.68" fill="#000"/>
<circle cx="270.77" cy="96.60" r="1.68" fill="#000"/>
<line x1="280.41" y1="70.06" x2="280.41" y2="74.04" stroke="#000" stroke-width="1.2"/>
<line x1="278.61" y1="70.06" x2="282.21" y2="70.06" stroke="#000" stroke-width="1.2"/>
<line x1="278.61" y1="74.04" x2="282.21" y2="74.04" stroke="#000" stroke-width="1.2"/>
<circle cx="280.41" cy="72.05" r="1.68" fill="#000"/>
<line x1="290.04" y1="50.55" x2="290.04" y2="57.19" stroke="#000" stroke-width="1.2"/>
<line x1="288.24" y1="50.55" x2="291.84" y2="50.55" stroke="#000" stroke-width="1.2"/>
<line x1="288.24" y1="57.19" x2="291.84" y2="57.19" stroke="#000" stroke-width="1.2"/>
<circle cx="290.04" cy="53.87" r="1.68" fill="#000"/>
<circle cx="299.68" cy="49.49" r="1.68" fill="#000"/>
<circle cx="309.31" cy="44.45" r="1.68" fill="#000"/>
<circle cx="318.95" cy="42.19" r="1.68" fill="#000"/>
<circle cx="328.58" cy="41.40" r="1.68" fill="#000"/>
<circle cx="338.22" cy="40.60" r="1.68" fill="#000"/>
<path d="M220.71,120.97 L224.49,120.97 L222.60,124.27 Z" fill="#fff" stroke="#000" stroke-width="1.07" stroke-linejoin="miter"/>
<path d="M230.35,120.31 L234.12,120.31 L232.23,123.61 Z" fill="#fff" stroke="#000" stroke-width="1.07" stroke-linejoin="miter"/>
<path d="M239.98,118.83 L243.76,118.83 L241.87,122.13 Z" fill="#fff" stroke="#000" stroke-width="1.07" stroke-linejoin="miter"/>
<path d="M249.62,115.54 L253.39,115.54 L251.50,118.84 Z" fill="#fff" stroke="#000" stroke-width="1.07" stroke-linejoin="miter"/>
<path d="M259.25,108.81 L263.03,108.81 L261.14,112.11 Z" fill="#fff" stroke="#000" stroke-width="1.07" stroke-linejoin="miter"/>
<path d="M268.89,100.09 L272.66,100.09 L270.77,103.39 Z" fill="#fff" stroke="#000" stroke-width="1.07" stroke-linejoin="miter"/>
<line x1="280.41" y1="74.04" x2="280.41" y2="80.67" stroke="#000" stroke-width="1.2"/>
<line x1="278.61" y1="74.04" x2="282.21" y2="74.04" stroke="#000" stroke-width="1.2"/>
<line x1="278.61" y1="80.67" x2="282.21" y2="80.67" stroke="#000" stroke-width="1.2"/>
<path d="M278.52,75.94 L282.30,75.94 L280.41,79.24 Z" fill="#fff" stroke="#000" stroke-width="1.07" stroke-linejoin="miter"/>
<path d="M288.16,64.93 L291.93,64.93 L290.04,68.23 Z" fill="#fff" stroke="#000" stroke-width="1.07" stroke-linejoin="miter"/>
<line x1="299.68" y1="51.39" x2="299.68" y2="55.37" stroke="#000" stroke-width="1.2"/>
<line x1="297.88" y1="51.39" x2="301.48" y2="51.39" stroke="#000" stroke-width="1.2"/>
<line x1="297.88" y1="55.37" x2="301.48" y2="55.37" stroke="#000" stroke-width="1.2"/>
<path d="M297.79,51.96 L301.57,51.96 L299.68,55.26 Z" fill="#fff" stroke="#000" stroke-width="1.07" stroke-linejoin="miter"/>
<path d="M307.43,45.23 L311.20,45.23 L309.31,48.53 Z" fill="#fff" stroke="#000" stroke-width="1.07" stroke-linejoin="miter"/>
<line x1="318.95" y1="38.74" x2="318.95" y2="44.05" stroke="#000" stroke-width="1.2"/>
<line x1="317.15" y1="38.74" x2="320.75" y2="38.74" stroke="#000" stroke-width="1.2"/>
<line x1="317.15" y1="44.05" x2="320.75" y2="44.05" stroke="#000" stroke-width="1.2"/>
<path d="M317.06,39.98 L320.84,39.98 L318.95,43.28 Z" fill="#fff" stroke="#000" stroke-width="1.07" stroke-linejoin="miter"/>
<path d="M326.70,40.46 L330.47,40.46 L328.58,43.76 Z" fill="#fff" stroke="#000" stroke-width="1.07" stroke-linejoin="miter"/>
<path d="M336.33,39.81 L340.11,39.81 L338.22,43.11 Z" fill="#fff" stroke="#000" stroke-width="1.07" stroke-linejoin="miter"/>
<path d="M220.71,123.91 L224.49,123.91 L222.60,120.61 Z" fill="#fff" stroke="#000" stroke-width="1.07" stroke-linejoin="miter"/>
<path d="M230.35,123.44 L234.12,123.44 L232.23,120.14 Z" fill="#fff" stroke="#000" stroke-width="1.07" stroke-linejoin="miter"/>
<path d="M239.98,122.39 L243.76,122.39 L241.87,119.09 Z" fill="#fff" stroke="#000" stroke-width="1.07" stroke-linejoin="miter"/>
<path d="M249.62,120.12 L253.39,120.12 L251.50,116.82 Z" fill="#fff" stroke="#000" stroke-width="1.07" stroke-linejoin="miter"/>
<path d="M259.25,115.41 L263.03,115.41 L261.14,112.11 Z" fill="#fff" stroke="#000" stroke-width="1.07" stroke-linejoin="miter"/>
<line x1="270.77" y1="102.97" x2="270.77" y2="108.28" stroke="#000" stroke-width="1.2"/>
<line x1="268.97" y1="102.97" x2="272.57" y2="102.97" stroke="#000" stroke-width="1.2"/>
<line x1="268.97" y1="108.28" x2="272.57" y2="108.28" stroke="#000" stroke-width="1.2"/>
<path d="M268.89,107.04 L272.66,107.04 L270.77,103.74 Z" fill="#fff" stroke="#000" stroke-width="1.07" stroke-linejoin="miter"/>
<line x1="280.41" y1="89.17" x2="280.41" y2="94.48" stroke="#000" stroke-width="1.2"/>
<line x1="278.61" y1="89.17" x2="282.21" y2="89.17" stroke="#000" stroke-width="1.2"/>
<line x1="278.61" y1="94.48" x2="282.21" y2="94.48" stroke="#000" stroke-width="1.2"/>
<path d="M278.52,93.24 L282.30,93.24 L280.41,89.94 Z" fill="#fff" stroke="#000" stroke-width="1.07" stroke-linejoin="miter"/>
<line x1="290.04" y1="70.19" x2="290.04" y2="75.50" stroke="#000" stroke-width="1.2"/>
<line x1="288.24" y1="70.19" x2="291.84" y2="70.19" stroke="#000" stroke-width="1.2"/>
<line x1="288.24" y1="75.50" x2="291.84" y2="75.50" stroke="#000" stroke-width="1.2"/>
<path d="M288.16,74.26 L291.93,74.26 L290.04,70.96 Z" fill="#fff" stroke="#000" stroke-width="1.07" stroke-linejoin="miter"/>
<path d="M297.79,63.25 L301.57,63.25 L299.68,59.95 Z" fill="#fff" stroke="#000" stroke-width="1.07" stroke-linejoin="miter"/>
<path d="M307.43,52.24 L311.20,52.24 L309.31,48.94 Z" fill="#fff" stroke="#000" stroke-width="1.07" stroke-linejoin="miter"/>
<path d="M317.06,47.00 L320.84,47.00 L318.95,43.70 Z" fill="#fff" stroke="#000" stroke-width="1.07" stroke-linejoin="miter"/>
<path d="M326.70,44.43 L330.47,44.43 L328.58,41.13 Z" fill="#fff" stroke="#000" stroke-width="1.07" stroke-linejoin="miter"/>
<path d="M336.33,43.24 L340.11,43.24 L338.22,39.94 Z" fill="#fff" stroke="#000" stroke-width="1.07" stroke-linejoin="miter"/>
<circle cx="222.60" cy="122.51" r="1.27" fill="#fff" stroke="#000" stroke-width="1.07"/>
<circle cx="232.23" cy="122.09" r="1.27" fill="#fff" stroke="#000" stroke-width="1.07"/>
<circle cx="241.87" cy="121.22" r="1.27" fill="#fff" stroke="#000" stroke-width="1.07"/>
<circle cx="251.50" cy="119.43" r="1.27" fill="#fff" stroke="#000" stroke-width="1.07"/>
<circle cx="261.14" cy="115.86" r="1.27" fill="#fff" stroke="#000" stroke-width="1.07"/>
<circle cx="270.77" cy="110.13" r="1.27" fill="#fff" stroke="#000" stroke-width="1.07"/>
<line x1="280.41" y1="95.93" x2="280.41" y2="101.24" stroke="#000" stroke-width="1.2"/>
<line x1="278.61" y1="95.93" x2="282.21" y2="95.93" stroke="#000" stroke-width="1.2"/>
<line x1="278.61" y1="101.24" x2="282.21" y2="101.24" stroke="#000" stroke-width="1.2"/>
<circle cx="280.41" cy="98.59" r="1.27" fill="#fff" stroke="#000" stroke-width="1.07"/>
<line x1="290.04" y1="79.08" x2="290.04" y2="87.04" stroke="#000" stroke-width="1.2"/>
<line x1="288.24" y1="79.08" x2="291.84" y2="79.08" stroke="#000" stroke-width="1.2"/>
<line x1="288.24" y1="87.04" x2="291.84" y2="87.04" stroke="#000" stroke-width="1.2"/>
<circle cx="290.04" cy="83.06" r="1.27" fill="#fff" stroke="#000" stroke-width="1.07"/>
<line x1="299.68" y1="64.09" x2="299.68" y2="77.36" stroke="#000" stroke-width="1.2"/>
<line x1="297.88" y1="64.09" x2="301.48" y2="64.09" stroke="#000" stroke-width="1.2"/>
<line x1="297.88" y1="77.36" x2="301.48" y2="77.36" stroke="#000" stroke-width="1.2"/>
<circle cx="299.68" cy="70.72" r="1.27" fill="#fff" stroke="#000" stroke-width="1.07"/>
<circle cx="309.31" cy="55.99" r="1.27" fill="#fff" stroke="#000" stroke-width="1.07"/>
<line x1="318.95" y1="49.49" x2="318.95" y2="56.12" stroke="#000" stroke-width="1.2"/>
<line x1="317.15" y1="49.49" x2="320.75" y2="49.49" stroke="#000" stroke-width="1.2"/>
<line x1="317.15" y1="56.12" x2="320.75" y2="56.12" stroke="#000" stroke-width="1.2"/>
<circle cx="318.95" cy="52.81" r="1.27" fill="#fff" stroke="#000" stroke-width="1.07"/>
<circle cx="328.58" cy="47.23" r="1.27" fill="#fff" stroke="#000" stroke-width="1.07"/>
<circle cx="338.22" cy="43.25" r="1.27" fill="#fff" stroke="#000" stroke-width="1.07"/>
<text x="358.80" y="17.00" font-size="11.2" text-anchor="start" font-weight="bold">C</text>
<line x1="394.60" y1="23.70" x2="394.60" y2="147.30" stroke="#000" stroke-width="1.1"/>
<line x1="391.40" y1="27.62" x2="394.60" y2="27.62" stroke="#000" stroke-width="1.1"/>
<text x="388.30" y="30.12" font-size="8" text-anchor="end">2.5</text>
<line x1="391.40" y1="46.96" x2="394.60" y2="46.96" stroke="#000" stroke-width="1.1"/>
<text x="388.30" y="49.46" font-size="8" text-anchor="end">2.0</text>
<line x1="391.40" y1="66.29" x2="394.60" y2="66.29" stroke="#000" stroke-width="1.1"/>
<text x="388.30" y="68.79" font-size="8" text-anchor="end">1.5</text>
<line x1="391.40" y1="85.63" x2="394.60" y2="85.63" stroke="#000" stroke-width="1.1"/>
<text x="388.30" y="88.13" font-size="8" text-anchor="end">1.0</text>
<line x1="391.40" y1="104.97" x2="394.60" y2="104.97" stroke="#000" stroke-width="1.1"/>
<text x="388.30" y="107.47" font-size="8" text-anchor="end">0.5</text>
<line x1="391.40" y1="124.30" x2="394.60" y2="124.30" stroke="#000" stroke-width="1.1"/>
<text x="388.30" y="126.80" font-size="8" text-anchor="end">0.0</text>
<line x1="391.40" y1="143.63" x2="394.60" y2="143.63" stroke="#000" stroke-width="1.1"/>
<text x="388.30" y="146.13" font-size="8" text-anchor="end">-0.5</text>
<line x1="394.60" y1="124.30" x2="485.30" y2="124.30" stroke="#000" stroke-width="1.1"/>
<line x1="422.90" y1="124.30" x2="422.90" y2="127.50" stroke="#000" stroke-width="1.1"/>
<text x="422.90" y="138.20" font-size="8" text-anchor="middle">-8.5</text>
<line x1="452.10" y1="124.30" x2="452.10" y2="127.50" stroke="#000" stroke-width="1.1"/>
<text x="452.10" y="138.20" font-size="8" text-anchor="middle">-8.0</text>
<line x1="481.30" y1="124.30" x2="481.30" y2="127.50" stroke="#000" stroke-width="1.1"/>
<text x="481.30" y="138.20" font-size="8" text-anchor="middle">-7.5</text>
<text x="440.30" y="151.00" font-size="9" text-anchor="middle" textLength="56" lengthAdjust="spacingAndGlyphs">log [Drug] (M)</text>
<text x="0" y="0" transform="translate(371.00,86.30) rotate(-90)" font-size="9" text-anchor="middle" textLength="41.8" lengthAdjust="spacingAndGlyphs">log [DR-1]</text>
<circle cx="400.70" cy="29.10" r="2.15" fill="#000"/>
<text x="406.20" y="31.40" font-size="7.7" text-anchor="start">Tic.</text>
<circle cx="400.70" cy="38.90" r="1.78" fill="#fff" stroke="#000" stroke-width="1.49"/>
<text x="406.20" y="41.20" font-size="7.7" text-anchor="start">AR-C</text>
<line x1="393.70" y1="138.22" x2="481.30" y2="41.16" stroke="#000" stroke-width="1.6"/>
<line x1="408.44" y1="143.63" x2="481.30" y2="92.98" stroke="#000" stroke-width="1.6"/>
<line x1="452.10" y1="62.43" x2="452.10" y2="70.16" stroke="#000" stroke-width="1.2"/>
<line x1="450.60" y1="62.43" x2="453.60" y2="62.43" stroke="#000" stroke-width="1.2"/>
<line x1="450.60" y1="70.16" x2="453.60" y2="70.16" stroke="#000" stroke-width="1.2"/>
<circle cx="422.90" cy="108.06" r="2.05" fill="#000"/>
<circle cx="452.10" cy="66.29" r="2.05" fill="#000"/>
<line x1="481.30" y1="39.23" x2="481.30" y2="43.09" stroke="#000" stroke-width="1.2"/>
<line x1="479.80" y1="39.23" x2="482.80" y2="39.23" stroke="#000" stroke-width="1.2"/>
<line x1="479.80" y1="43.09" x2="482.80" y2="43.09" stroke="#000" stroke-width="1.2"/>
<circle cx="481.30" cy="41.16" r="2.05" fill="#000"/>
<circle cx="422.90" cy="134.35" r="1.55" fill="#fff" stroke="#000" stroke-width="1.30"/>
<line x1="452.10" y1="113.86" x2="452.10" y2="116.18" stroke="#000" stroke-width="1.2"/>
<line x1="450.60" y1="113.86" x2="453.60" y2="113.86" stroke="#000" stroke-width="1.2"/>
<line x1="450.60" y1="116.18" x2="453.60" y2="116.18" stroke="#000" stroke-width="1.2"/>
<circle cx="452.10" cy="115.02" r="1.55" fill="#fff" stroke="#000" stroke-width="1.30"/>
<circle cx="481.30" cy="92.98" r="1.55" fill="#fff" stroke="#000" stroke-width="1.30"/>
<text x="8.30" y="173.60" font-size="11.2" text-anchor="start" font-weight="bold">D</text>
<line x1="48.30" y1="181.50" x2="48.30" y2="278.70" stroke="#000" stroke-width="1.1"/>
<line x1="45.30" y1="266.66" x2="48.30" y2="266.66" stroke="#000" stroke-width="1.1"/>
<line x1="45.30" y1="255.02" x2="48.30" y2="255.02" stroke="#000" stroke-width="1.1"/>
<line x1="45.30" y1="243.38" x2="48.30" y2="243.38" stroke="#000" stroke-width="1.1"/>
<line x1="45.30" y1="231.74" x2="48.30" y2="231.74" stroke="#000" stroke-width="1.1"/>
<line x1="45.30" y1="220.10" x2="48.30" y2="220.10" stroke="#000" stroke-width="1.1"/>
<line x1="45.30" y1="208.46" x2="48.30" y2="208.46" stroke="#000" stroke-width="1.1"/>
<line x1="45.30" y1="196.82" x2="48.30" y2="196.82" stroke="#000" stroke-width="1.1"/>
<line x1="45.30" y1="185.18" x2="48.30" y2="185.18" stroke="#000" stroke-width="1.1"/>
<text x="42.00" y="280.80" font-size="8" text-anchor="end">0</text>
<text x="42.00" y="269.16" font-size="8" text-anchor="end">1</text>
<text x="42.00" y="257.52" font-size="8" text-anchor="end">2</text>
<text x="42.00" y="245.88" font-size="8" text-anchor="end">3</text>
<text x="42.00" y="234.24" font-size="8" text-anchor="end">4</text>
<text x="42.00" y="222.60" font-size="8" text-anchor="end">5</text>
<text x="42.00" y="210.96" font-size="8" text-anchor="end">6</text>
<text x="42.00" y="199.32" font-size="8" text-anchor="end">7</text>
<text x="42.00" y="187.68" font-size="8" text-anchor="end">8</text>
<line x1="45.50" y1="278.70" x2="138.40" y2="278.70" stroke="#000" stroke-width="1.2"/>
<line x1="58.00" y1="278.70" x2="58.00" y2="281.80" stroke="#000" stroke-width="1.1"/>
<text x="58.00" y="291.80" font-size="8" text-anchor="middle">-10</text>
<line x1="77.30" y1="278.70" x2="77.30" y2="281.80" stroke="#000" stroke-width="1.1"/>
<text x="77.30" y="291.80" font-size="8" text-anchor="middle">-9</text>
<line x1="96.60" y1="278.70" x2="96.60" y2="281.80" stroke="#000" stroke-width="1.1"/>
<text x="96.60" y="291.80" font-size="8" text-anchor="middle">-8</text>
<line x1="115.90" y1="278.70" x2="115.90" y2="281.80" stroke="#000" stroke-width="1.1"/>
<text x="115.90" y="291.80" font-size="8" text-anchor="middle">-7</text>
<line x1="135.20" y1="278.70" x2="135.20" y2="281.80" stroke="#000" stroke-width="1.1"/>
<text x="135.20" y="291.80" font-size="8" text-anchor="middle">-6</text>
<text x="93.60" y="304.80" font-size="9" text-anchor="middle" textLength="72.5" lengthAdjust="spacingAndGlyphs">log [Forskolin] (M)</text>
<text x="0" y="0" transform="translate(21.00,229.80) rotate(-90)" font-size="8.6" text-anchor="middle" textLength="72" lengthAdjust="spacingAndGlyphs">Forskolin response</text>
<text x="0" y="0" transform="translate(31.80,230.90) rotate(-90)" font-size="8.6" text-anchor="middle" textLength="83" lengthAdjust="spacingAndGlyphs">(pmol cAMP per well)</text>
<circle cx="55.00" cy="185.50" r="2.25" fill="#000"/>
<text x="60.50" y="187.90" font-size="8.2" text-anchor="start">pcNEO</text>
<path d="M52.81,194.66 L57.19,194.66 L55.00,198.49 Z" fill="#fff" stroke="#000" stroke-width="1.23" stroke-linejoin="miter"/>
<text x="60.50" y="198.80" font-size="8.2" text-anchor="start">P2Y</text>
<text x="75.80" y="201.30" font-size="5.6" text-anchor="start">12</text>
<polyline points="58.00,274.35 58.64,274.33 59.29,274.31 59.93,274.29 60.57,274.27 61.22,274.24 61.86,274.22 62.50,274.19 63.15,274.15 63.79,274.12 64.43,274.08 65.08,274.04 65.72,273.99 66.36,273.95 67.01,273.89 67.65,273.84 68.29,273.77 68.94,273.71 69.58,273.64 70.22,273.56 70.87,273.47 71.51,273.38 72.15,273.28 72.80,273.18 73.44,273.06 74.08,272.94 74.73,272.80 75.37,272.66 76.01,272.50 76.66,272.33 77.30,272.15 77.94,271.95 78.59,271.74 79.23,271.51 79.87,271.26 80.52,271.00 81.16,270.71 81.80,270.40 82.45,270.07 83.09,269.72 83.73,269.33 84.38,268.92 85.02,268.48 85.66,268.01 86.31,267.51 86.95,266.97 87.59,266.39 88.24,265.78 88.88,265.13 89.52,264.43 90.17,263.69 90.81,262.90 91.45,262.07 92.10,261.19 92.74,260.26 93.38,259.28 94.03,258.25 94.67,257.16 95.31,256.03 95.96,254.84 96.60,253.60 97.24,252.31 97.89,250.97 98.53,249.59 99.17,248.16 99.82,246.68 100.46,245.17 101.10,243.62 101.75,242.04 102.39,240.43 103.03,238.79 103.68,237.14 104.32,235.47 104.96,233.80 105.61,232.12 106.25,230.45 106.89,228.78 107.54,227.13 108.18,225.50 108.82,223.89 109.47,222.31 110.11,220.76 110.75,219.24 111.40,217.77 112.04,216.34 112.68,214.95 113.33,213.61 113.97,212.32 114.61,211.08 115.26,209.90 115.90,208.76 116.54,207.68 117.19,206.64 117.83,205.66 118.47,204.73 119.12,203.85 119.76,203.02 120.40,202.24 121.05,201.50 121.69,200.80 122.33,200.14 122.98,199.53 123.62,198.95 124.26,198.42 124.91,197.91 125.55,197.44 126.19,197.00 126.84,196.59 127.48,196.21 128.12,195.85 128.77,195.52 129.41,195.21 130.05,194.93 130.70,194.66 131.34,194.41 131.98,194.19 132.63,193.97 133.27,193.78 133.91,193.59 134.56,193.42 135.20,193.27" fill="none" stroke="#000" stroke-width="1.9" stroke-linejoin="round"/>
<polyline points="58.00,274.41 58.64,274.40 59.29,274.39 59.93,274.37 60.57,274.35 61.22,274.34 61.86,274.32 62.50,274.30 63.15,274.27 63.79,274.25 64.43,274.23 65.08,274.20 65.72,274.17 66.36,274.14 67.01,274.10 67.65,274.06 68.29,274.02 68.94,273.98 69.58,273.93 70.22,273.88 70.87,273.83 71.51,273.77 72.15,273.70 72.80,273.64 73.44,273.56 74.08,273.48 74.73,273.40 75.37,273.31 76.01,273.21 76.66,273.10 77.30,272.99 77.94,272.86 78.59,272.73 79.23,272.59 79.87,272.44 80.52,272.27 81.16,272.10 81.80,271.91 82.45,271.71 83.09,271.49 83.73,271.26 84.38,271.01 85.02,270.74 85.66,270.46 86.31,270.16 86.95,269.83 87.59,269.49 88.24,269.12 88.88,268.73 89.52,268.31 90.17,267.87 90.81,267.40 91.45,266.90 92.10,266.38 92.74,265.82 93.38,265.24 94.03,264.62 94.67,263.97 95.31,263.29 95.96,262.58 96.60,261.83 97.24,261.05 97.89,260.24 98.53,259.39 99.17,258.52 99.82,257.61 100.46,256.68 101.10,255.71 101.75,254.72 102.39,253.71 103.03,252.68 103.68,251.62 104.32,250.55 104.96,249.46 105.61,248.36 106.25,247.26 106.89,246.15 107.54,245.04 108.18,243.93 108.82,242.82 109.47,241.72 110.11,240.64 110.75,239.56 111.40,238.51 112.04,237.47 112.68,236.46 113.33,235.47 113.97,234.51 114.61,233.57 115.26,232.66 115.90,231.79 116.54,230.94 117.19,230.13 117.83,229.35 118.47,228.61 119.12,227.89 119.76,227.21 120.40,226.56 121.05,225.95 121.69,225.36 122.33,224.80 122.98,224.28 123.62,223.78 124.26,223.31 124.91,222.87 125.55,222.46 126.19,222.06 126.84,221.70 127.48,221.35 128.12,221.03 128.77,220.72 129.41,220.44 130.05,220.17 130.70,219.93 131.34,219.69 131.98,219.48 132.63,219.28 133.27,219.09 133.91,218.91 134.56,218.75 135.20,218.59" fill="none" stroke="#000" stroke-width="1.9" stroke-linejoin="round"/>
<line x1="77.30" y1="265.50" x2="77.30" y2="271.32" stroke="#000" stroke-width="1.2"/>
<line x1="76.05" y1="265.50" x2="78.55" y2="265.50" stroke="#000" stroke-width="1.2"/>
<line x1="76.05" y1="271.32" x2="78.55" y2="271.32" stroke="#000" stroke-width="1.2"/>
<line x1="96.60" y1="247.45" x2="96.60" y2="252.69" stroke="#000" stroke-width="1.2"/>
<line x1="95.35" y1="247.45" x2="97.85" y2="247.45" stroke="#000" stroke-width="1.2"/>
<line x1="95.35" y1="252.69" x2="97.85" y2="252.69" stroke="#000" stroke-width="1.2"/>
<line x1="115.90" y1="207.30" x2="115.90" y2="218.94" stroke="#000" stroke-width="1.2"/>
<line x1="114.65" y1="207.30" x2="117.15" y2="207.30" stroke="#000" stroke-width="1.2"/>
<line x1="114.65" y1="218.94" x2="117.15" y2="218.94" stroke="#000" stroke-width="1.2"/>
<line x1="135.20" y1="188.32" x2="135.20" y2="196.24" stroke="#000" stroke-width="1.2"/>
<line x1="133.95" y1="188.32" x2="136.45" y2="188.32" stroke="#000" stroke-width="1.2"/>
<line x1="133.95" y1="196.24" x2="136.45" y2="196.24" stroke="#000" stroke-width="1.2"/>
<line x1="135.20" y1="211.37" x2="135.20" y2="222.43" stroke="#000" stroke-width="1.2"/>
<line x1="133.95" y1="211.37" x2="136.45" y2="211.37" stroke="#000" stroke-width="1.2"/>
<line x1="133.95" y1="222.43" x2="136.45" y2="222.43" stroke="#000" stroke-width="1.2"/>
<line x1="115.90" y1="232.90" x2="115.90" y2="238.14" stroke="#000" stroke-width="1.2"/>
<line x1="114.65" y1="232.90" x2="117.15" y2="232.90" stroke="#000" stroke-width="1.2"/>
<line x1="114.65" y1="238.14" x2="117.15" y2="238.14" stroke="#000" stroke-width="1.2"/>
<path d="M56.11,276.89 L59.89,276.89 L58.00,280.19 Z" fill="#fff" stroke="#000" stroke-width="1.07" stroke-linejoin="miter"/>
<path d="M75.41,266.99 L79.19,266.99 L77.30,270.29 Z" fill="#fff" stroke="#000" stroke-width="1.07" stroke-linejoin="miter"/>
<path d="M94.71,250.11 L98.49,250.11 L96.60,253.41 Z" fill="#fff" stroke="#000" stroke-width="1.07" stroke-linejoin="miter"/>
<path d="M114.01,233.93 L117.79,233.93 L115.90,237.23 Z" fill="#fff" stroke="#000" stroke-width="1.07" stroke-linejoin="miter"/>
<path d="M133.31,217.52 L137.09,217.52 L135.20,220.82 Z" fill="#fff" stroke="#000" stroke-width="1.07" stroke-linejoin="miter"/>
<circle cx="58.00" cy="278.30" r="1.95" fill="#000"/>
<circle cx="77.30" cy="268.41" r="1.95" fill="#000"/>
<circle cx="96.60" cy="249.78" r="1.95" fill="#000"/>
<circle cx="115.90" cy="208.46" r="1.95" fill="#000"/>
<circle cx="135.20" cy="193.33" r="1.95" fill="#000"/>
<text x="183.00" y="174.00" font-size="11.2" text-anchor="start" font-weight="bold">E</text>
<line x1="223.50" y1="180.50" x2="223.50" y2="278.70" stroke="#000" stroke-width="1.1"/>
<text x="217.10" y="280.00" font-size="8" text-anchor="end">0</text>
<line x1="220.30" y1="266.19" x2="223.50" y2="266.19" stroke="#000" stroke-width="1.1"/>
<text x="217.10" y="268.29" font-size="8" text-anchor="end">1</text>
<line x1="220.30" y1="254.48" x2="223.50" y2="254.48" stroke="#000" stroke-width="1.1"/>
<text x="217.10" y="256.58" font-size="8" text-anchor="end">2</text>
<line x1="220.30" y1="242.77" x2="223.50" y2="242.77" stroke="#000" stroke-width="1.1"/>
<text x="217.10" y="244.87" font-size="8" text-anchor="end">3</text>
<line x1="220.30" y1="231.06" x2="223.50" y2="231.06" stroke="#000" stroke-width="1.1"/>
<text x="217.10" y="233.16" font-size="8" text-anchor="end">4</text>
<line x1="220.30" y1="219.35" x2="223.50" y2="219.35" stroke="#000" stroke-width="1.1"/>
<text x="217.10" y="221.45" font-size="8" text-anchor="end">5</text>
<line x1="220.30" y1="207.64" x2="223.50" y2="207.64" stroke="#000" stroke-width="1.1"/>
<text x="217.10" y="209.74" font-size="8" text-anchor="end">6</text>
<line x1="220.30" y1="195.93" x2="223.50" y2="195.93" stroke="#000" stroke-width="1.1"/>
<text x="217.10" y="198.03" font-size="8" text-anchor="end">7</text>
<line x1="220.30" y1="184.22" x2="223.50" y2="184.22" stroke="#000" stroke-width="1.1"/>
<text x="217.10" y="186.32" font-size="8" text-anchor="end">8</text>
<rect x="227.00" y="189.49" width="15.00" height="89.21" fill="#000"/>
<line x1="234.50" y1="189.49" x2="234.50" y2="186.33" stroke="#000" stroke-width="1.6"/>
<line x1="230.50" y1="186.33" x2="238.50" y2="186.33" stroke="#000" stroke-width="1.5"/>
<line x1="234.50" y1="278.70" x2="234.50" y2="281.70" stroke="#000" stroke-width="1.1"/>
<rect x="250.40" y="216.66" width="15.00" height="62.04" fill="#cdcdcd"/>
<line x1="257.90" y1="216.66" x2="257.90" y2="212.79" stroke="#000" stroke-width="1.6"/>
<line x1="253.90" y1="212.79" x2="261.90" y2="212.79" stroke="#000" stroke-width="1.5"/>
<line x1="257.90" y1="278.70" x2="257.90" y2="281.70" stroke="#000" stroke-width="1.1"/>
<circle cx="257.90" cy="207.59" r="1.3" fill="#000"/>
<rect x="273.80" y="187.85" width="15.00" height="90.85" fill="#cdcdcd"/>
<line x1="281.30" y1="187.85" x2="281.30" y2="184.69" stroke="#000" stroke-width="1.6"/>
<line x1="277.30" y1="184.69" x2="285.30" y2="184.69" stroke="#000" stroke-width="1.5"/>
<line x1="281.30" y1="278.70" x2="281.30" y2="281.70" stroke="#000" stroke-width="1.1"/>
<rect x="297.20" y="211.39" width="15.00" height="67.31" fill="#cdcdcd"/>
<line x1="304.70" y1="211.39" x2="304.70" y2="206.47" stroke="#000" stroke-width="1.6"/>
<line x1="300.70" y1="206.47" x2="308.70" y2="206.47" stroke="#000" stroke-width="1.5"/>
<line x1="304.70" y1="278.70" x2="304.70" y2="281.70" stroke="#000" stroke-width="1.1"/>
<circle cx="304.70" cy="201.27" r="1.3" fill="#000"/>
<rect x="320.60" y="214.31" width="15.00" height="64.39" fill="#cdcdcd"/>
<line x1="328.10" y1="214.31" x2="328.10" y2="210.45" stroke="#000" stroke-width="1.6"/>
<line x1="324.10" y1="210.45" x2="332.10" y2="210.45" stroke="#000" stroke-width="1.5"/>
<line x1="328.10" y1="278.70" x2="328.10" y2="281.70" stroke="#000" stroke-width="1.1"/>
<circle cx="328.10" cy="205.25" r="1.3" fill="#000"/>
<line x1="220.00" y1="278.70" x2="338.50" y2="278.70" stroke="#000" stroke-width="1.2"/>
<text x="0" y="0" transform="translate(238.50,289.20) rotate(-45)" font-size="8.2" text-anchor="end">pcNEO</text>
<text x="0" y="0" transform="translate(261.90,289.20) rotate(-45)" font-size="8.2" text-anchor="end">+ Vehicle</text>
<text x="0" y="0" transform="translate(285.30,289.20) rotate(-45)" font-size="8.2" text-anchor="end">+ Tic.</text>
<text x="0" y="0" transform="translate(308.70,289.20) rotate(-45)" font-size="8.2" text-anchor="end">+R-138</text>
<text x="0" y="0" transform="translate(332.10,289.20) rotate(-45)" font-size="8.2" text-anchor="end">+AR-C</text>
<text x="0" y="0" transform="translate(193.60,230.00) rotate(-90)" font-size="8.6" text-anchor="middle" textLength="72" lengthAdjust="spacingAndGlyphs">Forskolin response</text>
<text x="0" y="0" transform="translate(204.50,231.00) rotate(-90)" font-size="8.6" text-anchor="middle" textLength="83" lengthAdjust="spacingAndGlyphs">(pmol cAMP per well)</text>
<line x1="250.50" y1="313.85" x2="336.00" y2="313.85" stroke="#000" stroke-width="1.25"/>
<text x="282.40" y="323.80" font-size="7.7" text-anchor="start">P2Y</text>
<text x="297.40" y="327.00" font-size="5.8" text-anchor="start">12</text>
<text x="358.50" y="174.40" font-size="11.2" text-anchor="start" font-weight="bold">F</text>
<line x1="394.10" y1="180.50" x2="394.10" y2="278.70" stroke="#000" stroke-width="1.1"/>
<text x="387.50" y="280.00" font-size="8" text-anchor="end">0</text>
<line x1="390.90" y1="266.19" x2="394.10" y2="266.19" stroke="#000" stroke-width="1.1"/>
<text x="387.50" y="268.29" font-size="8" text-anchor="end">1</text>
<line x1="390.90" y1="254.48" x2="394.10" y2="254.48" stroke="#000" stroke-width="1.1"/>
<text x="387.50" y="256.58" font-size="8" text-anchor="end">2</text>
<line x1="390.90" y1="242.77" x2="394.10" y2="242.77" stroke="#000" stroke-width="1.1"/>
<text x="387.50" y="244.87" font-size="8" text-anchor="end">3</text>
<line x1="390.90" y1="231.06" x2="394.10" y2="231.06" stroke="#000" stroke-width="1.1"/>
<text x="387.50" y="233.16" font-size="8" text-anchor="end">4</text>
<line x1="390.90" y1="219.35" x2="394.10" y2="219.35" stroke="#000" stroke-width="1.1"/>
<text x="387.50" y="221.45" font-size="8" text-anchor="end">5</text>
<line x1="390.90" y1="207.64" x2="394.10" y2="207.64" stroke="#000" stroke-width="1.1"/>
<text x="387.50" y="209.74" font-size="8" text-anchor="end">6</text>
<line x1="390.90" y1="195.93" x2="394.10" y2="195.93" stroke="#000" stroke-width="1.1"/>
<text x="387.50" y="198.03" font-size="8" text-anchor="end">7</text>
<line x1="390.90" y1="184.22" x2="394.10" y2="184.22" stroke="#000" stroke-width="1.1"/>
<text x="387.50" y="186.32" font-size="8" text-anchor="end">8</text>
<rect x="397.25" y="192.07" width="12.70" height="86.63" fill="#000"/>
<line x1="403.60" y1="192.07" x2="403.60" y2="187.62" stroke="#000" stroke-width="1.6"/>
<line x1="400.20" y1="187.62" x2="407.00" y2="187.62" stroke="#000" stroke-width="1.5"/>
<line x1="403.60" y1="278.70" x2="403.60" y2="281.70" stroke="#000" stroke-width="1.1"/>
<rect x="417.15" y="216.66" width="12.70" height="62.04" fill="#cdcdcd"/>
<line x1="423.50" y1="216.66" x2="423.50" y2="210.68" stroke="#000" stroke-width="1.6"/>
<line x1="420.10" y1="210.68" x2="426.90" y2="210.68" stroke="#000" stroke-width="1.5"/>
<line x1="423.50" y1="278.70" x2="423.50" y2="281.70" stroke="#000" stroke-width="1.1"/>
<circle cx="423.50" cy="205.48" r="1.3" fill="#000"/>
<rect x="436.45" y="187.50" width="12.70" height="91.20" fill="#cdcdcd"/>
<line x1="442.80" y1="187.50" x2="442.80" y2="184.34" stroke="#000" stroke-width="1.6"/>
<line x1="439.40" y1="184.34" x2="446.20" y2="184.34" stroke="#000" stroke-width="1.5"/>
<line x1="442.80" y1="278.70" x2="442.80" y2="281.70" stroke="#000" stroke-width="1.1"/>
<rect x="455.75" y="194.41" width="12.70" height="84.29" fill="#cdcdcd"/>
<line x1="462.10" y1="194.41" x2="462.10" y2="190.31" stroke="#000" stroke-width="1.6"/>
<line x1="458.70" y1="190.31" x2="465.50" y2="190.31" stroke="#000" stroke-width="1.5"/>
<line x1="462.10" y1="278.70" x2="462.10" y2="281.70" stroke="#000" stroke-width="1.1"/>
<rect x="475.05" y="210.57" width="12.70" height="68.13" fill="#cdcdcd"/>
<line x1="481.40" y1="210.57" x2="481.40" y2="207.29" stroke="#000" stroke-width="1.6"/>
<line x1="478.00" y1="207.29" x2="484.80" y2="207.29" stroke="#000" stroke-width="1.5"/>
<line x1="481.40" y1="278.70" x2="481.40" y2="281.70" stroke="#000" stroke-width="1.1"/>
<circle cx="481.40" cy="202.09" r="1.3" fill="#000"/>
<rect x="496.45" y="217.59" width="12.70" height="61.11" fill="#cdcdcd"/>
<line x1="502.80" y1="217.59" x2="502.80" y2="212.32" stroke="#000" stroke-width="1.6"/>
<line x1="499.40" y1="212.32" x2="506.20" y2="212.32" stroke="#000" stroke-width="1.5"/>
<line x1="502.80" y1="278.70" x2="502.80" y2="281.70" stroke="#000" stroke-width="1.1"/>
<circle cx="502.80" cy="207.12" r="1.3" fill="#000"/>
<line x1="390.60" y1="278.70" x2="512.20" y2="278.70" stroke="#000" stroke-width="1.2"/>
<text x="0" y="0" transform="translate(407.60,289.20) rotate(-45)" font-size="8.2" text-anchor="end">pcNEO</text>
<text x="0" y="0" transform="translate(427.50,289.20) rotate(-45)" font-size="8.2" text-anchor="end">Vehicle</text>
<text x="0" y="0" transform="translate(446.80,289.20) rotate(-45)" font-size="7.3" text-anchor="end">10</text>
<text x="0" y="0" transform="translate(466.10,289.20) rotate(-45)" font-size="7.3" text-anchor="end">1</text>
<text x="0" y="0" transform="translate(485.40,289.20) rotate(-45)" font-size="7.3" text-anchor="end">0.1</text>
<text x="0" y="0" transform="translate(506.80,289.20) rotate(-45)" font-size="7.3" text-anchor="end">0.01</text>
<text x="0" y="0" transform="translate(366.00,230.00) rotate(-90)" font-size="8.6" text-anchor="middle" textLength="72" lengthAdjust="spacingAndGlyphs">Forskolin response</text>
<text x="0" y="0" transform="translate(376.90,231.00) rotate(-90)" font-size="8.6" text-anchor="middle" textLength="83" lengthAdjust="spacingAndGlyphs">(pmol cAMP per well)</text>
<line x1="437.20" y1="309.70" x2="511.90" y2="309.70" stroke="#000" stroke-width="1.25"/>
<text x="474.50" y="320.20" font-size="7.7" text-anchor="middle">Tic.</text>
<line x1="421.50" y1="325.20" x2="508.90" y2="325.20" stroke="#000" stroke-width="1.25"/>
<text x="454.40" y="335.30" font-size="7.7" text-anchor="start">P2Y</text>
<text x="469.40" y="338.40" font-size="5.8" text-anchor="start">12</text><rect x="0" y="0" width="520" height="1" fill="#000"/><rect x="0" y="1" width="520" height="1" fill="#888"/><rect x="0" y="0" width="1" height="342" fill="#000"/><rect x="1" y="0" width="1" height="342" fill="#888"/><rect x="519" y="0" width="1" height="342" fill="#000"/><rect x="518" y="0" width="1" height="342" fill="#aaa"/><rect x="0" y="341" width="520" height="1" fill="#000"/><rect x="0" y="340" width="520" height="1" fill="#aaa"/></svg>
</body></html>
